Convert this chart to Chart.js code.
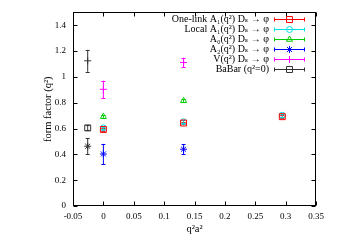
<!DOCTYPE html>
<html><head><meta charset="utf-8">
<script src="https://cdn.jsdelivr.net/npm/chart.js@4/dist/chart.umd.min.js"></script>
<style>html,body{margin:0;padding:0;background:#fff}canvas{display:block}</style>
</head><body>
<canvas id="c" width="354" height="248"></canvas>
<script>
// ---- data ----
const xTicks = [-0.05, 0, 0.05, 0.1, 0.15, 0.2, 0.25, 0.3, 0.35];
const yTicks = [0, 0.2, 0.4, 0.6, 0.8, 1, 1.2, 1.4];

const seriesLabels = [
  'One-link A\u2081(q\u00b2) D\u209b \u2192 \u03c6',
  'Local A\u2081(q\u00b2) D\u209b \u2192 \u03c6',
  'A\u2080(q\u00b2) D\u209b \u2192 \u03c6',
  'A\u2082(q\u00b2) D\u209b \u2192 \u03c6',
  'V(q\u00b2) D\u209b \u2192 \u03c6',
  'BaBar (q\u00b2=0)'
];

const oneLinkX = [0, 0.132, 0.2945];
const oneLinkY = [0.593, 0.643, 0.692];
const oneLinkErr = [0.01, 0.01, 0.01];

const localX = [0, 0.132, 0.2945];
const localY = [0.605, 0.653, 0.703];
const localErr = [0.01, 0.01, 0.01];

const a0X = [0, 0.132];
const a0Y = [0.692, 0.815];
const a0Err = [0.012, 0.012];

const a2X = [0, 0.132];
const a2Y = [0.403, 0.44];
const a2Err = [0.078, 0.038];

const vX = [0, 0.132];
const vY = [0.904, 1.112];
const vErr = [0.068, 0.037];

const babarX = [-0.0258, -0.0258, -0.0258];
const babarY = [0.605, 0.463, 1.125];
const babarErr = [0.02, 0.06, 0.085];
const babarStyles = ['rect', 'star', 'cross'];

const FONT = "'Liberation Serif', 'DejaVu Serif', serif";

function pts(xs, ys, es) { return xs.map((x, i) => ({x: x, y: ys[i], e: es[i]})); }

const datasets = [
  {label: seriesLabels[0], data: pts(oneLinkX, oneLinkY, oneLinkErr), borderColor: '#ff0000', pointStyle: 'rect', pointRadius: 4.2},
  {label: seriesLabels[1], data: pts(localX, localY, localErr), borderColor: '#00e0e0', pointStyle: 'circle', pointRadius: 3},
  {label: seriesLabels[2], data: pts(a0X, a0Y, a0Err), borderColor: '#00cc00', pointStyle: 'triangle', pointRadius: 3.5},
  {label: seriesLabels[3], data: pts(a2X, a2Y, a2Err), borderColor: '#0000ff', pointStyle: 'star', pointRadius: 3.5},
  {label: seriesLabels[4], data: pts(vX, vY, vErr), borderColor: '#ff00ff', pointStyle: 'cross', pointRadius: 3.5},
  {label: seriesLabels[5], data: pts(babarX, babarY, babarErr), borderColor: '#333333', pointStyle: babarStyles, pointRadius: [4.2, 3.5, 3.5]}
].map(d => Object.assign(d, {backgroundColor: 'rgba(0,0,0,0)', borderWidth: 1, showLine: false, pointHoverRadius: d.pointRadius}));

const errorBars = {
  id: 'errorBars',
  beforeDatasetsDraw(chart) {
    const ctx = chart.ctx, xs = chart.scales.x, ys = chart.scales.y;
    ctx.save();
    ctx.lineWidth = 1;
    chart.data.datasets.forEach(ds => {
      ctx.strokeStyle = ds.borderColor;
      ds.data.forEach(p => {
        const px = xs.getPixelForValue(p.x);
        const y1 = ys.getPixelForValue(p.y - p.e), y2 = ys.getPixelForValue(p.y + p.e);
        ctx.beginPath();
        ctx.moveTo(px, y1); ctx.lineTo(px, y2);
        ctx.moveTo(px - 2, Math.round(y1) + 0.5); ctx.lineTo(px + 2, Math.round(y1) + 0.5);
        ctx.moveTo(px - 2, Math.round(y2) + 0.5); ctx.lineTo(px + 2, Math.round(y2) + 0.5);
        ctx.stroke();
      });
    });
    ctx.restore();
  }
};

const frame = {
  id: 'frame',
  afterDraw(chart) {
    const ctx = chart.ctx, a = chart.chartArea, xs = chart.scales.x, ys = chart.scales.y;
    ctx.save();
    ctx.strokeStyle = '#000';
    ctx.lineWidth = 1;
    const L = Math.round(a.left) + 0.5, R = Math.round(a.right) - 0.5, T = Math.round(a.top) + 0.5, B = Math.round(a.bottom) - 0.5;
    ctx.strokeRect(L, T, R - L, B - T);
    ctx.beginPath();
    yTicks.forEach(v => {
      const py = Math.round(ys.getPixelForValue(v)) + 0.5;
      ctx.moveTo(L, py); ctx.lineTo(L + 4, py);
      ctx.moveTo(R, py); ctx.lineTo(R - 4, py);
    });
    xTicks.forEach(v => {
      const px = Math.round(xs.getPixelForValue(v)) + 0.5;
      ctx.moveTo(px, B); ctx.lineTo(px, B - 4);
      ctx.moveTo(px, T); ctx.lineTo(px, T + 4);
    });
    ctx.stroke();

    // axis titles
    ctx.fillStyle = '#000';
    ctx.font = '10.5px ' + FONT;
    ctx.textAlign = 'center';
    ctx.textBaseline = 'middle';
    ctx.fillText('q\u00b2a\u00b2', (a.left + a.right) / 2, 229);
    ctx.save();
    ctx.translate(48, (a.top + a.bottom) / 2);
    ctx.rotate(-Math.PI / 2);
    ctx.fillText('form factor (q\u00b2)', 0, 0);
    ctx.restore();

    // legend
    ctx.font = '10px ' + FONT;
    ctx.textAlign = 'right';
    chart.data.datasets.forEach((ds, i) => {
      const y = 19 + 10 * i + 0.5;
      ctx.fillStyle = '#000';
      ctx.fillText(ds.label, 269, y);
      ctx.strokeStyle = ds.borderColor;
      ctx.beginPath();
      ctx.moveTo(274.5, y); ctx.lineTo(304.5, y);
      ctx.moveTo(274.5, y - 2); ctx.lineTo(274.5, y + 2);
      ctx.moveTo(304.5, y - 2); ctx.lineTo(304.5, y + 2);
      ctx.stroke();
      const style = Array.isArray(ds.pointStyle) ? ds.pointStyle[0] : ds.pointStyle;
      const rad = Array.isArray(ds.pointRadius) ? ds.pointRadius[0] : ds.pointRadius;
      ctx.fillStyle = 'rgba(0,0,0,0)';
      Chart.helpers.drawPoint(ctx, {pointStyle: style, radius: rad, rotation: 0, borderWidth: 1}, 289.5, y);
    });
    ctx.restore();
  }
};

new Chart(document.getElementById('c'), {
  type: 'scatter',
  data: {datasets: datasets},
  options: {
    responsive: false,
    animation: false,
    devicePixelRatio: 1,
    layout: {padding: {left: 0, right: 38, top: 12, bottom: 0}},
    plugins: {legend: {display: false}, tooltip: {enabled: false}},
    scales: {
      x: {
        type: 'linear', min: -0.05, max: 0.35,
        afterBuildTicks: s => { s.ticks = xTicks.map(v => ({value: v})); },
        afterFit: s => { s.height = 42; },
        grid: {display: false, drawTicks: false},
        border: {display: false},
        ticks: {padding: 5, color: '#000', font: {family: FONT, size: 9}, maxRotation: 0, autoSkip: false,
          callback: v => String(Math.round(v * 100) / 100)}
      },
      y: {
        type: 'linear', min: 0, max: 1.5,
        afterBuildTicks: s => { s.ticks = yTicks.map(v => ({value: v})); },
        afterFit: s => { s.width = 73; },
        grid: {display: false, drawTicks: false},
        border: {display: false},
        ticks: {padding: 7, color: '#000', font: {family: FONT, size: 9}, autoSkip: false,
          callback: v => String(Math.round(v * 10) / 10)}
      }
    }
  },
  plugins: [errorBars, frame]
});
</script>
</body></html>
